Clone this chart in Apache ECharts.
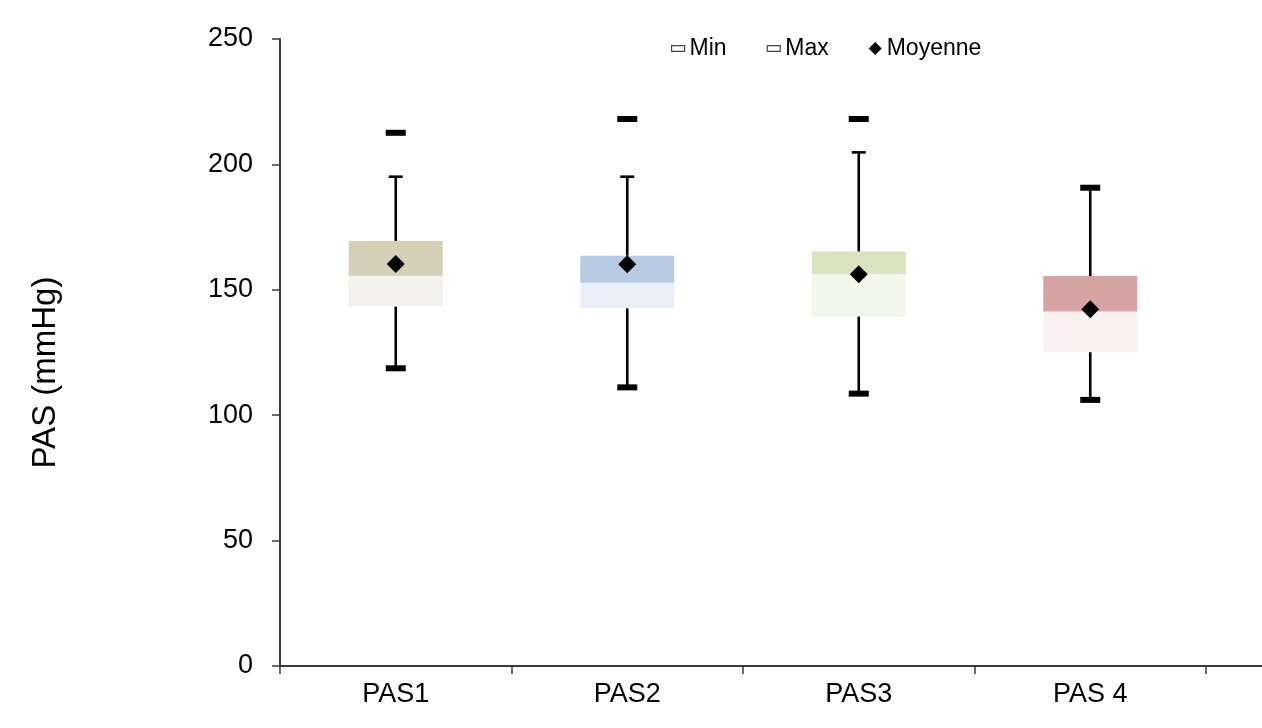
<!DOCTYPE html>
<html>
<head>
<meta charset="utf-8">
<script src="https://cdn.jsdelivr.net/npm/echarts@6/dist/echarts.min.js"></script>
<style>html,body{margin:0;padding:0;background:#fff}#c{width:1262px;height:728px}</style>
</head>
<body>
<div id="c"></div>
<script>
var categories = ['PAS1', 'PAS2', 'PAS3', 'PAS 4'];
var q1Values = [143.3, 142.6, 139.3, 125.1];
var medianValues = [155.6, 152.8, 156.3, 141.3];
var q3Values = [169.5, 163.6, 165.3, 155.5];
var upperWhisker = [195.1, 195.1, 204.8, 190.7];
var minValues = [118.7, 111.1, 108.6, 106.1];
var maxValues = [212.6, 218.1, 218.1, 190.7];
var meanValues = [160.3, 160.2, 156.2, 142.2];
var yTicks = [0, 50, 100, 150, 200, 250];

var darkColors = ['#D4CFB6', '#B9CAE3', '#D7E4BE', '#D8A4A3'];
var lightColors = ['#F3F2EC', '#E9EEF7', '#F2F6EB', '#F9F1F1'];

var FONT = "'Liberation Sans', Arial, sans-serif";
var AXIS_COLOR = '#3a3a3a';

var chart = echarts.init(document.getElementById('c'), null, {renderer: 'canvas'});

var baseData = q1Values.map(function (v) { return v; });
var lowerData = medianValues.map(function (m, i) {
  return {value: m - q1Values[i], itemStyle: {color: lightColors[i]}};
});
var upperData = q3Values.map(function (q, i) {
  return {value: q - medianValues[i], itemStyle: {color: darkColors[i]}};
});
var whiskerData = categories.map(function (c, i) {
  return [i, q1Values[i], q3Values[i], upperWhisker[i], minValues[i]];
});

var option = {
  backgroundColor: '#fff',
  animation: false,
  textStyle: {fontFamily: FONT},
  grid: [
    {left: 280, right: 56, top: 39, bottom: 62, containLabel: false},
    {left: 280, right: 0, top: 39, bottom: 62, containLabel: false}
  ],
  legend: {
    left: 666, top: 32,
    itemWidth: 13, itemHeight: 13, itemGap: 40,
    textStyle: {fontSize: 23, color: '#000', fontFamily: FONT},
    data: [
      {name: 'Min', icon: 'path://M0,0 L14,0 L14,6 L0,6 Z', itemStyle: {color: '#fff', borderColor: '#444', borderWidth: 1.2}},
      {name: 'Max', icon: 'path://M0,0 L14,0 L14,6 L0,6 Z', itemStyle: {color: '#fff', borderColor: '#444', borderWidth: 1.2}},
      {name: 'Moyenne', icon: 'diamond', itemStyle: {color: '#000'}}
    ]
  },
  xAxis: [
    {
      type: 'category', gridIndex: 0, data: categories,
      axisLine: {lineStyle: {color: AXIS_COLOR, width: 2}},
      axisTick: {show: true, length: 8, lineStyle: {color: AXIS_COLOR, width: 1.5}},
      axisLabel: {fontSize: 27, color: '#000', margin: 15, fontFamily: FONT},
      splitLine: {show: false}
    },
    {
      type: 'value', gridIndex: 1, min: 0, max: 1,
      axisLine: {show: true, lineStyle: {color: AXIS_COLOR, width: 2}},
      axisTick: {show: false}, axisLabel: {show: false}, splitLine: {show: false}
    }
  ],
  yAxis: [
    {
      type: 'value', gridIndex: 0, min: 0, max: 250, interval: 50,
      name: 'PAS (mmHg)', nameLocation: 'middle', nameRotate: 90, nameGap: 218,
      nameTextStyle: {fontSize: 33, color: '#000', fontFamily: FONT, padding: [0, 40, 0, 0]},
      axisLine: {show: true, lineStyle: {color: AXIS_COLOR, width: 2}},
      axisTick: {show: true, length: 8, lineStyle: {color: AXIS_COLOR, width: 1.5}},
      axisLabel: {fontSize: 27, color: '#000', margin: 27, fontFamily: FONT,
        formatter: function (v) { return yTicks.indexOf(v) >= 0 ? String(v) : ''; }},
      splitLine: {show: false}
    },
    {type: 'value', gridIndex: 1, min: 0, max: 1, show: false}
  ],
  series: [
    {
      name: 'base', type: 'bar', stack: 'box', barWidth: 94, silent: true,
      itemStyle: {color: 'transparent'}, data: baseData, z: 1
    },
    {
      name: 'lower', type: 'bar', stack: 'box', barWidth: 94, silent: true,
      data: lowerData, z: 1
    },
    {
      name: 'upper', type: 'bar', stack: 'box', barWidth: 94, silent: true,
      data: upperData, z: 1
    },
    {
      name: 'whiskers', type: 'custom', z: 3, silent: true,
      encode: {x: 0, y: [1, 2, 3, 4]},
      data: whiskerData,
      renderItem: function (params, api) {
        var idx = api.value(0);
        var pQ1 = api.coord([idx, api.value(1)]);
        var pQ3 = api.coord([idx, api.value(2)]);
        var pHi = api.coord([idx, api.value(3)]);
        var pMin = api.coord([idx, api.value(4)]);
        var style = {stroke: '#000', lineWidth: 2.6};
        return {
          type: 'group',
          children: [
            {type: 'line', shape: {x1: pQ3[0], y1: pQ3[1], x2: pHi[0], y2: pHi[1]}, style: style},
            {type: 'line', shape: {x1: pHi[0] - 7, y1: pHi[1], x2: pHi[0] + 7, y2: pHi[1]}, style: style},
            {type: 'line', shape: {x1: pQ1[0], y1: pQ1[1], x2: pMin[0], y2: pMin[1]}, style: style}
          ]
        };
      }
    },
    {
      name: 'Min', type: 'scatter', symbol: 'rect', symbolSize: [20, 6], symbolKeepAspect: true,
      itemStyle: {color: '#000', opacity: 1}, data: minValues, z: 5
    },
    {
      name: 'Max', type: 'scatter', symbol: 'rect', symbolSize: [20, 6], symbolKeepAspect: true,
      itemStyle: {color: '#000', opacity: 1}, data: maxValues, z: 5
    },
    {
      name: 'Moyenne', type: 'scatter', symbol: 'diamond', symbolSize: 18,
      itemStyle: {color: '#000', opacity: 1}, data: meanValues, z: 6
    }
  ]
};
chart.setOption(option);
</script>
</body>
</html>
